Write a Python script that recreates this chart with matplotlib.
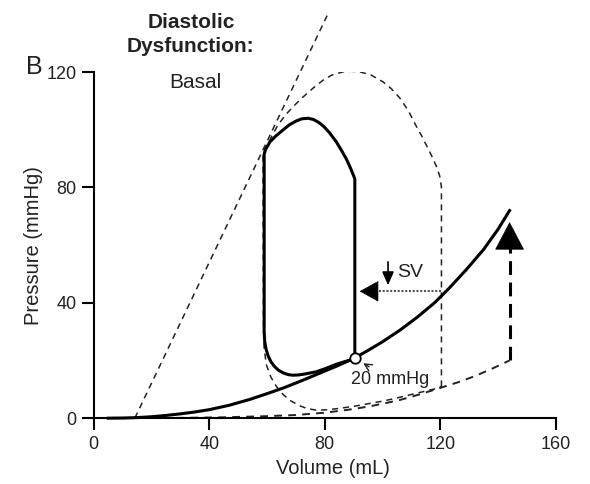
import matplotlib
matplotlib.use("Agg")
import matplotlib.pyplot as plt

plt.rcParams['font.family'] = ['Liberation Sans', 'DejaVu Sans']

# end-systolic pressure-volume line (dashed)
espvr_v = [14.2, 81]
espvr_p = [0, 140]

# end-diastolic curve, diastolic dysfunction (solid)
edpvr_v = [5, 10, 15, 20, 25, 30, 35, 40, 47, 54, 60, 66, 72, 78, 84, 90, 95, 100, 106,
           112, 118, 123, 129, 135, 140, 144]
edpvr_p = [0, 0.05, 0.2, 0.5, 0.95, 1.5, 2.15, 2.95, 4.5, 6.5, 8.5, 10.6, 13, 15.5, 18, 20.7,
           23.5, 26.5, 30.5, 35, 40, 45, 51.5, 58.5, 65.5, 72]

# end-diastolic curve, basal (dashed)
edpvr0_v = [14, 30, 45, 60, 70, 80, 88, 95, 100, 106, 112, 120, 126, 132, 138, 144]
edpvr0_p = [0, 0.1, 0.3, 0.7, 1.1, 1.9, 2.9, 4, 5, 6.3, 8, 10.5, 12.4, 14.6, 17.2, 20]

# basal PV loop (dashed)
loop0_v = [120.4, 120.4, 119.8, 118.7, 117, 115, 113.5, 111.8, 109, 106, 103, 100.2, 96,
           92.1, 89, 86.3, 82.5, 79.4, 76, 72.5, 69.5, 66.7, 64, 62.1, 60, 58.6,
           58.8, 59, 59.8, 61.3, 63.3, 65.5, 67.9, 71.3, 74, 77, 81, 85, 90, 95, 100, 105,
           112, 118.7, 120.4]
loop0_p = [11, 80.2, 84, 87.2, 91, 95, 98, 101, 106.5, 111, 114.3, 116.6, 119,
           120.1, 120.3, 120.1, 119, 117.2, 114.5, 111.4, 108.5, 105.5, 102, 98.7, 94.5, 91.8,
           30, 24, 18.4, 14.3, 10.9, 8.3, 6.2, 4.3, 3.3, 2.8, 2.9, 3.4, 4.1, 5, 5.9, 7,
           8.7, 10.3, 11]

# PV loop with diastolic dysfunction (solid)
loop_v = [90.4, 90.4, 89, 87.5, 85.7, 84, 81.7, 79.8, 78, 76, 74.2, 72, 70, 67.7, 65.6, 63,
          61, 59.5, 59, 59, 59.2, 59.7, 60.4, 61.4, 62.5, 64, 65.6, 67.3, 69, 71, 73, 77.1,
          80.5, 84, 87.2, 90.4]
loop_p = [20.5, 83, 86.5, 89.8, 93, 95.8, 98.9, 101, 102.5, 103.6, 104, 103.8, 103, 101.7,
          100, 97.8, 95.8, 93.2, 91.5, 30, 26.5, 23.8, 21.5, 19.5, 18, 16.6, 15.7, 15.1,
          14.9, 15, 15.3, 16.1, 17.3, 18.7, 19.7, 20.5]

# annotations
edv_point = (90.4, 21)
sv_y = 44
sv_from, sv_to = 120.4, 92.1
shift_v = 144
shift_from, shift_to = 20, 68

xticks = [0, 40, 80, 120, 160]
yticks = [0, 40, 80, 120]

fig = plt.figure(figsize=(5.9, 4.84), dpi=100)
ax = fig.add_axes([0.159, 0.136, 0.783, 0.715])

dash = (0, (4, 3.2))
ax.plot(espvr_v, espvr_p, color='#222', lw=1.1, ls=dash, clip_on=False)
ax.plot(edpvr0_v, edpvr0_p, color='#222', lw=1.4, ls=dash)
ax.plot(loop0_v, loop0_p, color='#222', lw=1.1, ls=dash)
ax.plot(edpvr_v, edpvr_p, color='black', lw=2.2, clip_on=False)
ax.plot(loop_v, loop_p, color='black', lw=2.2, solid_joinstyle='round')

# upward shift of the diastolic curve
ax.plot([shift_v, shift_v], [shift_from, shift_to - 9], color='black', lw=2.2,
        ls=(0, (4.5, 2.5)))
ax.annotate('', xy=(shift_v, shift_to), xytext=(shift_v, shift_to - 9),
            arrowprops=dict(arrowstyle='-|>,head_length=0.95,head_width=0.5',
                            color='black', lw=0.5, shrinkA=0, shrinkB=0,
                            mutation_scale=20))

# reduced stroke volume
ax.plot([sv_from, sv_to + 4], [sv_y, sv_y], color='#555', lw=1.5, ls=(0, (1, 0.8)))
ax.annotate('', xy=(sv_to, sv_y), xytext=(sv_to + 4, sv_y),
            arrowprops=dict(arrowstyle='-|>,head_length=0.9,head_width=0.5',
                            color='black', lw=0.5, shrinkA=0, shrinkB=0,
                            mutation_scale=14))
ax.annotate('', xy=(101.9, 46.1), xytext=(101.9, 54.2),
            arrowprops=dict(arrowstyle='-|>,head_length=0.8,head_width=0.35',
                            color='black', lw=1.2, shrinkA=0, shrinkB=0,
                            mutation_scale=10))
ax.text(109.7, 50.4, 'SV', fontsize=14, color='#222', ha='center', va='center')

# end-diastolic point
ax.plot(*edv_point, 'o', ms=7.5, mfc='white', mec='black', mew=1.3, zorder=5)
ax.annotate('20 mmHg', xy=(92.9, 19.3), xytext=(102.5, 13.4), fontsize=13, color='#222',
            ha='center', va='center',
            arrowprops=dict(arrowstyle='->', color='#222', lw=1, shrinkA=2, shrinkB=1))

ax.set_xlim(0, 160)
ax.set_ylim(0, 120)
ax.set_xticks(xticks)
ax.set_yticks(yticks)
for s in ['top', 'right']:
    ax.spines[s].set_visible(False)
for s in ['left', 'bottom']:
    ax.spines[s].set_linewidth(1.5)
ax.tick_params(direction='out', length=8.5, width=1.5, labelsize=13,
               labelcolor='#222', pad=4)
ax.set_xlabel('Volume (mL)', fontsize=14.5, color='#222')
ax.set_ylabel('Pressure (mmHg)', fontsize=14.5, color='#222')
ax.xaxis.set_label_coords(0.517, -0.118)
ax.yaxis.set_label_coords(-0.11, 0.5)

W, H = 590, 484
fig.text(191 / W, 1 - 22 / H, 'Diastolic', fontsize=15, fontweight='bold',
         color='#222', ha='center', va='center')
fig.text(190 / W, 1 - 47 / H, 'Dysfunction:', fontsize=15, fontweight='bold',
         color='#222', ha='center', va='center')
fig.text(195 / W, 1 - 82 / H, 'Basal', fontsize=15, color='#222',
         ha='center', va='center')
fig.text(34 / W, 1 - 67 / H, 'B', fontsize=18, color='#222', ha='center', va='center')

fig.savefig('out.png', dpi=100)
